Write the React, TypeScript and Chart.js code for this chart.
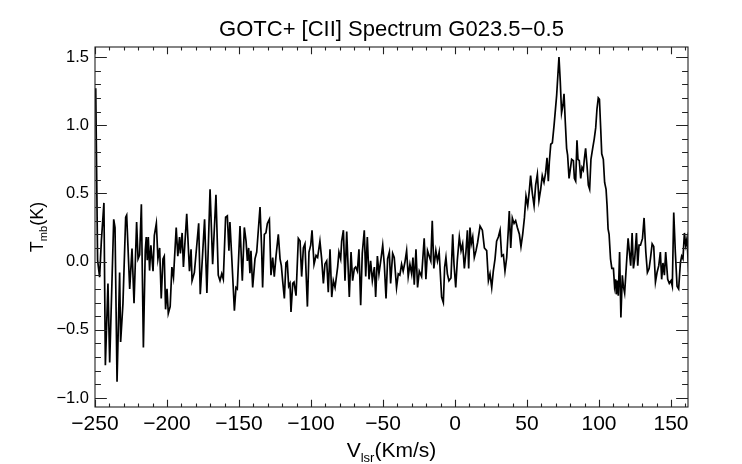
import { useEffect, useRef } from "react";
import { Chart, registerables } from "chart.js";

Chart.register(...registerables);

const TITLE = "GOTC+ [CII] Spectrum G023.5\u22120.5";
const FONT = "'Liberation Sans', Arial, Helvetica, sans-serif";

// Velocity (km/s) of each sample of the spectrum
const velocity = [
  -250, -249.5, -248.2, -246.8, -245.6, -243.8, -242.8, -241.0, -239.8, -237.0,
  -236.1, -234.7, -232.9, -232.2, -230.6, -228.7, -228.0, -225.9, -224.3, -222.9,
  -221.1, -220.1, -219.0, -217.8, -216.4, -215.1, -214.4, -213.7, -213.0, -212.1,
  -211.2, -209.7, -208.8, -207.4, -206.3, -205.1, -204.0, -202.8, -201.9, -201.0,
  -200.0, -199.1, -197.8, -196.6, -195.5, -193.6, -192.5, -191.3, -190.7, -189.5,
  -188.6, -186.3, -184.4, -183.3, -182.6, -181.0, -179.9, -178.0, -176.9, -175.3,
  -173.9, -172.3,
  -170.1, -168.3, -166.0, -164.4, -163.2, -162.0, -160.9, -159.3, -158.1, -157.0,
  -156.3, -155.1, -153.2, -152.1, -151.2, -149.3, -147.7, -146.3, -145.1, -144.2,
  -143.3, -142.4, -141.7, -140.5, -138.9, -137.7, -135.4, -134.3, -133.6, -132.4,
  -131.3, -130.3, -128.9, -127.8, -126.6, -125.5, -124.3, -122.7, -121.5, -120.6,
  -119.7, -118.5, -117.4, -116.5, -115.5, -114.6, -113.9, -112.7, -111.8, -110.4,
  -108.8, -107.6, -106.5, -105.3, -104.2, -102.5, -101.4, -100.2, -99.3, -97.9,
  -96.5, -95.4, -93.8, -92.6, -91.4,
  -90.3, -89.1, -88.0, -86.8, -85.6, -84.5, -83.3, -81.5, -80.6, -79.4,
  -78.7, -77.5, -76.4, -75.2, -74.5, -73.4, -72.2, -71.1, -69.9, -69.0,
  -67.8, -66.7, -65.5, -64.4, -63.0, -62.0, -60.9, -59.7, -58.6, -57.4,
  -56.0, -55.1, -53.9, -52.8, -51.4, -50.2, -49.1, -47.9, -46.8, -45.6,
  -44.7, -43.3, -42.2, -40.6, -39.4, -38.3, -37.1, -36.0, -34.8, -33.6,
  -32.5, -31.3, -30.1, -29.2, -28.3, -27.1, -26.0, -24.8, -23.2, -21.4,
  -20.2, -19.1, -17.9, -16.8, -15.8, -14.7, -13.3, -12.2, -11.0,
  -9.3, -8.1, -7.2, -6.3, -5.3, -4.2, -2.8, -1.6, -0.7, 0.5,
  1.6, 3.0, 4.2, 5.3, 6.5, 7.6, 8.6, 9.5, 10.4, 11.3,
  12.3, 13.4, 14.6, 15.7, 17.4, 19.0, 20.4, 22.0, 23.2, 24.3,
  25.5, 26.6, 27.8, 28.9, 30.1, 31.3, 32.4, 33.6, 34.7, 35.9,
  37.0, 37.7, 38.7, 39.8, 41.0, 42.1, 43.3, 44.7, 45.8, 47.0,
  48.2, 49.3, 50.5, 51.6, 52.5, 53.7, 54.9, 56.0, 57.2, 58.3,
  59.5, 60.6, 61.8, 62.9, 63.9, 64.8, 65.5, 66.5, 67.6, 68.8,
  70.6, 72.2, 73.1, 74.0, 75.0, 75.7, 76.6, 77.5, 78.2, 79.2,
  80.1, 81.0, 82.2, 82.9, 83.8, 84.7, 85.4, 86.3, 87.3, 88.2,
  89.1, 89.8, 90.7, 91.7, 92.6, 93.5, 94.4, 95.6, 96.7, 97.7,
  98.6, 99.5, 100.3, 101.2, 101.9, 103.0, 103.9, 104.9, 105.6, 106.3,
  107.0, 108.0, 108.9, 110.0, 110.8, 111.5, 112.0, 112.7, 113.4, 114.3,
  115.2, 116.2, 116.9, 117.8, 119.0, 120.2, 121.1, 122.0, 123.0, 123.9,
  124.8, 126.0, 126.9, 127.8, 128.8, 130.2, 131.3, 132.5, 133.6, 134.8,
  135.7, 136.9, 138.0, 139.2, 140.3, 141.5, 142.6, 143.5, 144.4, 145.4,
  146.3, 147.7, 148.8, 150.0, 150.9, 151.9, 153.0, 154.2, 155.3, 156.5,
  157.4, 158.3, 159.3, 160.2, 161.1, 162.3,
];

// Main-beam temperature (K) of each sample
const tmb = [
  1.20, 1.27, 0.01, -0.115, 0.15, 0.43, -0.76, -0.16, -0.74, 0.31,
  0.25, -0.88, -0.08, -0.59, -0.31, 0.325, 0.34, -0.2, 0.095, -0.305,
  0.29, 0.02, 0.05, 0.42, -0.63, 0.08, 0.18, 0.01, 0.18, -0.066,
  0.12, -0.07, 0.19, 0.28, 0.02, 0.1, -0.27, 0.02, 0.04, -0.35,
  -0.2, -0.38, -0.33, -0.04, -0.115, 0.25, 0.04, 0.18, 0.06, 0.21,
  -0.04, 0.35, -0.07, 0.09, -0.14, -0.08, 0.05, 0.28, -0.24, 0.05,
  0.31, -0.23,
  0.53, -0.02, 0.49, -0.10, -0.14, -0.09, -0.13, 0.325, 0.335, 0.08,
  0.29, 0.045, -0.36, -0.19, -0.2, 0.26, -0.14, 0.25, 0.15, 0.005,
  0.10, -0.085, 0.08, -0.19, 0.02, 0.07, 0.40, 0.10, -0.19, 0.20,
  0.21, 0.28, 0.31, -0.1, 0.03, -0.11, 0.04, 0.20, 0.02, -0.03,
  -0.14, -0.27, -0.01, 0.0, -0.18, -0.16, -0.37, -0.16, -0.15, -0.25,
  0.17, 0.15, -0.11, 0.10, 0.13, -0.33, 0.07, 0.12, 0.23, -0.02,
  0.045, 0.03, 0.15, 0.02, -0.16,
  -0.017, 0.005, -0.225, 0.09, -0.26, -0.14, -0.19, -0.04, 0.07, 0.02,
  0.15, 0.23, -0.14, 0.22, 0.03, -0.26, 0.07, -0.14, -0.05, -0.04,
  -0.07, 0.09, -0.32, 0.06, 0.23, -0.11, 0.18, -0.13, 0.005, -0.14,
  -0.04, -0.26, 0.04, -0.09, 0.02, 0.12, -0.02, -0.27, 0.02, 0.07,
  -0.16, 0.06, 0.03, -0.19, -0.09, -0.1, -0.02, -0.07, -0.005, 0.08,
  -0.11, -0.02, -0.09, 0.03, -0.17, 0.09, -0.19, -0.07, -0.11, 0.17,
  -0.13, 0.08, 0.04, 0.005, 0.30, -0.05, 0.08, 0.005, 0.07,
  -0.26, -0.30, -0.04, 0.03, -0.09, -0.14, -0.12, 0.20, -0.02, -0.19,
  0.01, 0.18, 0.08, 0.13, -0.05, 0.07, 0.23, -0.05, 0.25, 0.13,
  0.18, 0.03, 0.08, 0.14, 0.26, 0.23, 0.1, 0.08, -0.14, -0.09,
  -0.19, -0.07, 0.02, 0.15, 0.18, 0.23, 0.04, 0.05, -0.07, 0.03,
  0.23, 0.37, 0.1, 0.32, 0.28, 0.30, 0.25, 0.2, 0.11, 0.2,
  0.32, 0.48, 0.41, 0.52, 0.63, 0.50, 0.41, 0.56, 0.64, 0.45,
  0.53, 0.63, 0.58, 0.65, 0.76, 0.59, 0.73, 0.86, 0.87, 1.0,
  1.22, 1.50, 1.32, 1.09, 1.15, 1.23, 1.02, 0.83, 0.78, 0.61,
  0.68, 0.75, 0.74, 0.61, 0.59, 0.89, 0.75, 0.74, 0.61, 0.69,
  0.67, 0.75, 0.83, 0.70, 0.56, 0.53, 0.75, 0.83, 0.90, 0.98,
  1.12, 1.20, 1.19, 0.97, 0.79, 0.75, 0.58, 0.53, 0.41, 0.24,
  0.20, 0.02, -0.05, -0.05, -0.18, -0.13, -0.24, -0.14, -0.25, 0.07,
  -0.41, -0.10, -0.18, -0.23, -0.03, 0.17, 0.07, -0.03, 0.21, -0.05,
  0.02, 0.21, -0.03, 0.12, 0.12, 0.17, 0.32, 0.07, -0.08, -0.05,
  0.02, 0.13, 0.11, -0.15, -0.08, -0.03, 0.07, -0.13, -0.01, -0.1,
  0.07, -0.13, -0.16, -0.14, -0.18, 0.36, 0.07, -0.18, -0.2, -0.01,
  0.04, 0.02, 0.21, 0.12, 0.17, -0.08,
];

const xMajorTicks = [-250, -200, -150, -100, -50, 0, 50, 100, 150];
const yMajorTicks = [-1.0, -0.5, 0.0, 0.5, 1.0, 1.5];
const X_MINOR_STEP = 10;
const Y_MINOR_STEP = 0.1;
const X_RANGE = [-250, 161.8];
const Y_RANGE = [-1.066, 1.573];

const fmtX = (v: number) => String(v).replace("-", "\u2212");
const fmtY = (v: number) => v.toFixed(1).replace("-", "\u2212");

type Part = [string, number, number];

function drawParts(ctx: CanvasRenderingContext2D, parts: Part[], cx: number, baseline: number) {
  let total = 0;
  for (const [t, size] of parts) {
    ctx.font = `${size}px ${FONT}`;
    total += ctx.measureText(t).width;
  }
  let x = cx - total / 2;
  ctx.textAlign = "left";
  ctx.textBaseline = "alphabetic";
  for (const [t, size, dy] of parts) {
    ctx.font = `${size}px ${FONT}`;
    ctx.fillText(t, x, baseline + dy);
    x += ctx.measureText(t).width;
  }
}

const framePlugin = {
  id: "idlFrame",
  afterDraw(chart: any) {
    const { ctx, chartArea: a, scales } = chart;
    const xs = scales.x;
    const ys = scales.y;
    ctx.save();
    ctx.strokeStyle = "#222";
    ctx.lineWidth = 1.1;
    ctx.strokeRect(a.left, a.top, a.right - a.left, a.bottom - a.top);

    const xLen = (a.bottom - a.top) * 0.02;
    const yLen = (a.right - a.left) * 0.02;
    ctx.beginPath();
    const [x0, x1] = [xs.min, xs.max];
    for (let v = Math.ceil(x0 / X_MINOR_STEP) * X_MINOR_STEP; v <= x1 + 1e-9; v += X_MINOR_STEP) {
      const major = xMajorTicks.includes(Math.round(v));
      const len = major ? xLen : xLen / 2;
      const p = Math.round(xs.getPixelForValue(v)) + 0.5;
      ctx.moveTo(p, a.bottom);
      ctx.lineTo(p, a.bottom - len);
      ctx.moveTo(p, a.top);
      ctx.lineTo(p, a.top + len);
    }
    const [y0, y1] = [ys.min, ys.max];
    for (let k = Math.ceil(y0 / Y_MINOR_STEP - 1e-9); k * Y_MINOR_STEP <= y1 + 1e-9; k++) {
      const v = k * Y_MINOR_STEP;
      const major = k % 5 === 0;
      const len = major ? yLen : yLen / 2;
      const p = Math.round(ys.getPixelForValue(v)) + 0.5;
      ctx.moveTo(a.left, p);
      ctx.lineTo(a.left + len, p);
      ctx.moveTo(a.right, p);
      ctx.lineTo(a.right - len, p);
    }
    ctx.stroke();

    ctx.fillStyle = "#000";
    drawParts(ctx, [["V", 21, 0], ["lsr", 13, 5], ["(Km/s)", 21, 0]], (a.left + a.right) / 2, 457);

    ctx.translate(43, (a.top + a.bottom) / 2);
    ctx.rotate(-Math.PI / 2);
    drawParts(ctx, [["T", 18, 0], ["mb", 11, 4], ["(K)", 18, 0]], 0, 0);
    ctx.restore();
  },
};

export default function App() {
  const ref = useRef<HTMLCanvasElement>(null);
  useEffect(() => {
    document.body.style.margin = "0";
    const n = Math.min(velocity.length, tmb.length);
    const points = [] as { x: number; y: number }[];
    for (let i = 0; i < n; i++) points.push({ x: velocity[i], y: tmb[i] });
    const chart = new Chart(ref.current as HTMLCanvasElement, {
      type: "line",
      data: {
        datasets: [
          {
            data: points,
            borderColor: "#000",
            borderWidth: 1.7,
            pointRadius: 0,
            tension: 0,
            fill: false,
          },
        ],
      },
      options: {
        animation: false,
        responsive: false,
        events: [],
        layout: { padding: { left: 0, right: 54, top: 0, bottom: 0 } },
        plugins: {
          legend: { display: false },
          tooltip: { enabled: false },
          title: {
            display: true,
            text: TITLE,
            fullSize: false,
            color: "#000",
            font: { family: FONT, size: 22, weight: "normal" },
            padding: { top: 17, bottom: 3.6 },
          },
        },
        scales: {
          x: {
            type: "linear",
            min: X_RANGE[0],
            max: X_RANGE[1],
            grid: { display: false, drawTicks: false },
            border: { display: false },
            ticks: {
              color: "#000",
              font: { family: FONT, size: 21 },
              padding: 5,
              maxRotation: 0,
              autoSkip: false,
              callback: (v: any) => fmtX(Number(v)),
            },
            afterBuildTicks: (s: any) => {
              s.ticks = xMajorTicks.map((v) => ({ value: v }));
            },
            afterFit: (s: any) => {
              s.height = 57;
            },
          },
          y: {
            type: "linear",
            min: Y_RANGE[0],
            max: Y_RANGE[1],
            grid: { display: false, drawTicks: false },
            border: { display: false },
            ticks: {
              color: "#000",
              font: { family: FONT, size: 16.5 },
              padding: 6,
              autoSkip: false,
              callback: (v: any) => fmtY(Number(v)),
            },
            afterBuildTicks: (s: any) => {
              s.ticks = yMajorTicks.map((v) => ({ value: v }));
            },
            afterFit: (s: any) => {
              s.width = 95;
            },
          },
        },
      },
      plugins: [framePlugin],
    } as any);
    return () => chart.destroy();
  }, []);
  return (
    <div style={{ width: 742, height: 464, background: "#fff" }}>
      <canvas ref={ref} width={742} height={464} style={{ display: "block" }} />
    </div>
  );
}
